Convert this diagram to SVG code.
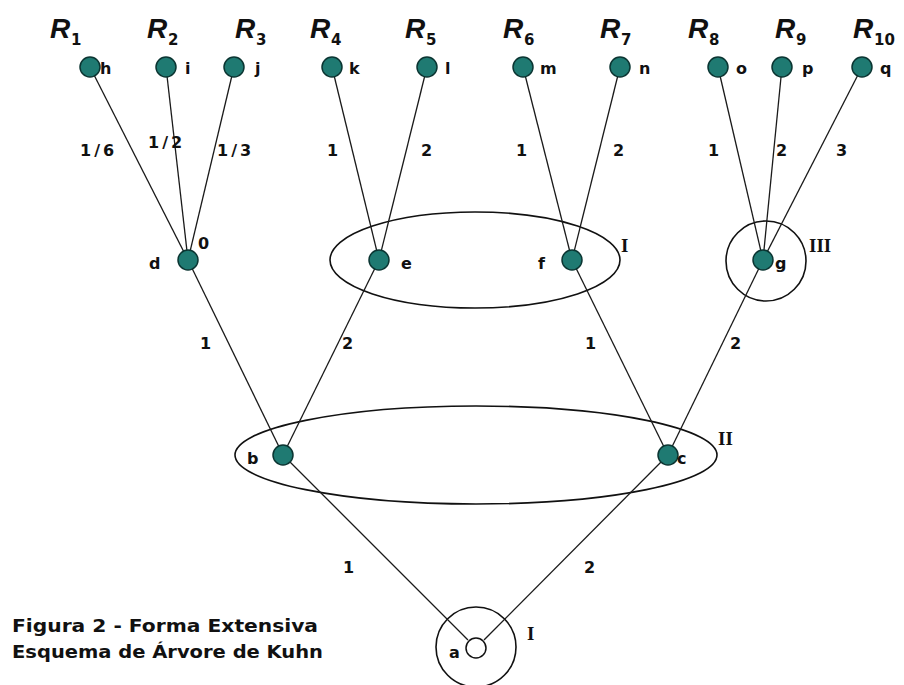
<svg xmlns="http://www.w3.org/2000/svg" width="904" height="685" viewBox="0 0 904 685">
<style>
.edge{stroke:#1a1a1a;stroke-width:1.3;fill:none}
.set{stroke:#111;stroke-width:1.6;fill:none}
.node{fill:#1f7a72;stroke:#0b3532;stroke-width:1.5}
.lbl{font-family:"DejaVu Sans",Verdana,sans-serif;font-weight:bold;font-size:16px;fill:#111}
.num{font-family:"DejaVu Sans",Verdana,sans-serif;font-weight:bold;font-size:16px;fill:#111;letter-spacing:3px}
.R{font-family:"Liberation Sans",Arial,sans-serif;font-style:italic;font-weight:bold;font-size:28px;fill:#111}
.sub{font-family:"DejaVu Sans",Verdana,sans-serif;font-weight:bold;font-size:15px;fill:#111}
.grp{font-family:"Liberation Serif","Times New Roman",serif;font-weight:bold;font-size:19px;fill:#111}
.cap{font-family:"DejaVu Sans",Verdana,sans-serif;font-weight:bold;font-size:18px;fill:#111}
</style>
<rect width="904" height="685" fill="#fff"/>
<g id="infosets">
<ellipse class="set" cx="475" cy="260" rx="145" ry="48"/>
<circle class="set" cx="766" cy="261" r="40"/>
<ellipse class="set" cx="476" cy="455" rx="241" ry="49"/>
<circle class="set" cx="476" cy="647" r="40"/>
<text class="grp" x="621" y="252">I</text>
<text class="grp" x="809" y="252">III</text>
<text class="grp" x="718" y="445">II</text>
<text class="grp" x="527" y="640">I</text>
</g>
<g id="connectors">
<line class="edge" x1="90" y1="67" x2="188" y2="260"/>
<line class="edge" x1="166" y1="67" x2="188" y2="260"/>
<line class="edge" x1="234" y1="67" x2="188" y2="260"/>
<line class="edge" x1="332" y1="67" x2="379" y2="260"/>
<line class="edge" x1="427" y1="67" x2="379" y2="260"/>
<line class="edge" x1="523" y1="67" x2="572" y2="260"/>
<line class="edge" x1="620" y1="67" x2="572" y2="260"/>
<line class="edge" x1="718" y1="67" x2="763" y2="260"/>
<line class="edge" x1="782" y1="67" x2="763" y2="260"/>
<line class="edge" x1="862" y1="67" x2="763" y2="260"/>
<line class="edge" x1="188" y1="260" x2="283" y2="455"/>
<line class="edge" x1="379" y1="260" x2="283" y2="455"/>
<line class="edge" x1="572" y1="260" x2="668" y2="455"/>
<line class="edge" x1="763" y1="260" x2="668" y2="455"/>
<line class="edge" x1="283" y1="455" x2="468" y2="640"/>
<line class="edge" x1="668" y1="455" x2="484" y2="640"/>
<text class="num" x="80" y="156">1/6</text>
<text class="num" x="148" y="148">1/2</text>
<text class="num" x="217" y="156">1/3</text>
<text class="num" x="327" y="156">1</text>
<text class="num" x="421" y="156">2</text>
<text class="num" x="516" y="156">1</text>
<text class="num" x="613" y="156">2</text>
<text class="num" x="708" y="156">1</text>
<text class="num" x="776" y="156">2</text>
<text class="num" x="836" y="156">3</text>
<text class="num" x="200" y="349">1</text>
<text class="num" x="342" y="349">2</text>
<text class="num" x="585" y="349">1</text>
<text class="num" x="730" y="349">2</text>
<text class="num" x="343" y="573">1</text>
<text class="num" x="584" y="573">2</text>
</g>
<g id="h"><circle class="node" cx="90" cy="67" r="10"/><text class="lbl" x="100" y="74">h</text><text class="R" x="50" y="38">R</text><text class="sub" x="71" y="45">1</text></g>
<g id="i"><circle class="node" cx="166" cy="67" r="10"/><text class="lbl" x="185" y="74">i</text><text class="R" x="147" y="38">R</text><text class="sub" x="168" y="45">2</text></g>
<g id="j"><circle class="node" cx="234" cy="67" r="10"/><text class="lbl" x="255" y="74">j</text><text class="R" x="235" y="38">R</text><text class="sub" x="256" y="45">3</text></g>
<g id="k"><circle class="node" cx="332" cy="67" r="10"/><text class="lbl" x="349" y="74">k</text><text class="R" x="310" y="38">R</text><text class="sub" x="331" y="45">4</text></g>
<g id="l"><circle class="node" cx="427" cy="67" r="10"/><text class="lbl" x="445" y="74">l</text><text class="R" x="405" y="38">R</text><text class="sub" x="426" y="45">5</text></g>
<g id="m"><circle class="node" cx="523" cy="67" r="10"/><text class="lbl" x="540" y="74">m</text><text class="R" x="503" y="38">R</text><text class="sub" x="524" y="45">6</text></g>
<g id="n"><circle class="node" cx="620" cy="67" r="10"/><text class="lbl" x="639" y="74">n</text><text class="R" x="600" y="38">R</text><text class="sub" x="621" y="45">7</text></g>
<g id="o"><circle class="node" cx="718" cy="67" r="10"/><text class="lbl" x="736" y="74">o</text><text class="R" x="688" y="38">R</text><text class="sub" x="709" y="45">8</text></g>
<g id="p"><circle class="node" cx="782" cy="67" r="10"/><text class="lbl" x="802" y="74">p</text><text class="R" x="775" y="38">R</text><text class="sub" x="796" y="45">9</text></g>
<g id="q"><circle class="node" cx="862" cy="67" r="10"/><text class="lbl" x="880" y="74">q</text><text class="R" x="853" y="38">R</text><text class="sub" x="874" y="45">10</text></g>
<g id="d"><circle class="node" cx="188" cy="260" r="10"/><text class="lbl" x="149" y="269">d</text><text class="lbl" x="198" y="249">0</text></g>
<g id="e"><circle class="node" cx="379" cy="260" r="10"/><text class="lbl" x="401" y="269">e</text></g>
<g id="f"><circle class="node" cx="572" cy="260" r="10"/><text class="lbl" x="538" y="269">f</text></g>
<g id="g"><circle class="node" cx="763" cy="260" r="10"/><text class="lbl" x="775" y="269">g</text></g>
<g id="b"><circle class="node" cx="283" cy="455" r="10"/><text class="lbl" x="247" y="464">b</text></g>
<g id="c"><circle class="node" cx="668" cy="455" r="10"/><text class="lbl" x="677" y="464">c</text></g>
<g id="a"><circle cx="476" cy="648" r="10" fill="#fff" stroke="#111" stroke-width="1.5"/><text class="lbl" x="449" y="658">a</text></g>
<g id="caption">
<text class="cap" x="12" y="632" textLength="306" lengthAdjust="spacingAndGlyphs">Figura 2 - Forma Extensiva</text>
<text class="cap" x="12" y="658" textLength="311" lengthAdjust="spacingAndGlyphs">Esquema de Árvore de Kuhn</text>
</g>
</svg>
